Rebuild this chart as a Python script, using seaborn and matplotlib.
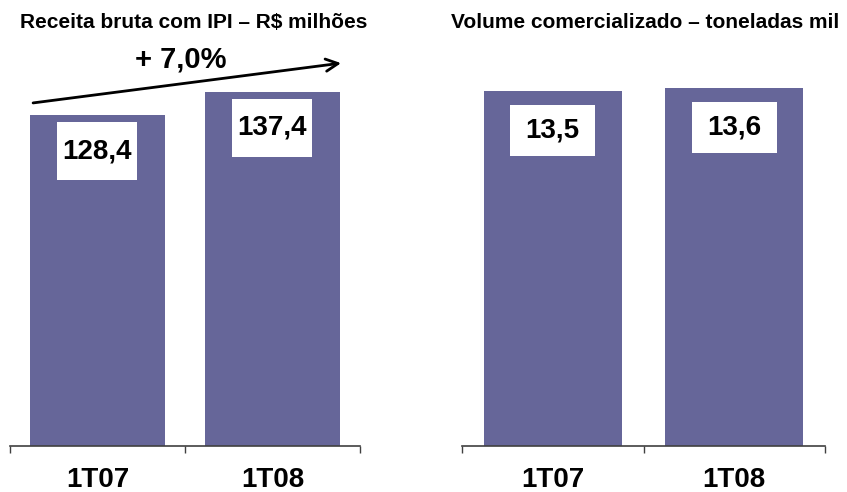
import matplotlib
matplotlib.use('Agg')
import matplotlib.pyplot as plt
import matplotlib.transforms as mtransforms
from matplotlib.patches import Rectangle
import seaborn as sns
import pandas as pd

# data
periods = ['1T07', '1T08']
receita = [128.4, 137.4]
volume = [13.5, 13.6]
receita_labels = ['128,4', '137,4']
volume_labels = ['13,5', '13,6']
growth_label = '+ 7,0%'
titles = ['Receita bruta com IPI \u2013 R$ milhões',
          'Volume comercializado \u2013 toneladas mil']

sns.set_style('white')
plt.rcParams['font.family'] = ['Liberation Sans', 'DejaVu Sans']
plt.rcParams['text.color'] = 'black'
plt.rcParams['xtick.color'] = 'black'

bar_color = '#666699'

fig = plt.figure(figsize=(8.47, 4.92), dpi=100)
ax1 = fig.add_axes([0.0118, 0.0935, 0.4132, 0.8252])
ax2 = fig.add_axes([0.5455, 0.0935, 0.4286, 0.8252])

panels = [
    (ax1, receita, receita_labels, titles[0], 157.5, 0.77, (0.80, 0.58), 0.36, 0.526),
    (ax2, volume, volume_labels, titles[1], 15.44, 0.76, (0.85, 0.51), 0.39, 0.504),
]

for ax, values, labels, title, ytop, width, box, drop, title_x in panels:
    df = pd.DataFrame({'periodo': periods, 'valor': values})
    sns.barplot(data=df, x='periodo', y='valor', color=bar_color,
                saturation=1, width=width, linewidth=0, ax=ax)
    ax.set_xlim(-0.5, 1.5)
    ax.set_ylim(0, ytop)
    ax.set_xlabel('')
    ax.set_ylabel('')
    ax.set_yticks([])
    for side in ['top', 'right', 'left']:
        ax.spines[side].set_visible(False)
    ax.spines['bottom'].set_color('#404040')
    ax.spines['bottom'].set_linewidth(1.2)

    # category labels between separator ticks
    ax.set_xticks([0, 1])
    ax.set_xticklabels(periods, fontsize=20, fontweight='bold', color='black')
    ax.set_xticks([-0.5, 0.5, 1.5], minor=True)
    ax.tick_params(axis='x', which='major', length=0, pad=15)
    ax.tick_params(axis='x', which='minor', length=5, width=1,
                   color='#404040', direction='out', bottom=True)

    # white value boxes inside bars
    for i, (v, lab) in enumerate(zip(values, labels)):
        trans = fig.dpi_scale_trans + mtransforms.ScaledTranslation(i, v, ax.transData)
        ax.add_patch(Rectangle((-box[0] / 2, -drop - box[1] / 2), box[0], box[1],
                               transform=trans, facecolor='white',
                               edgecolor='none', zorder=3, clip_on=False))
        ax.text(0, -drop, lab, transform=trans, ha='center', va='center',
                fontsize=20, fontweight='bold', color='black', zorder=4)

    ax.text(title_x, 1.042, title, transform=ax.transAxes, ha='center',
            va='center', fontsize=15, fontweight='bold', color='black')

# growth arrow on the revenue panel
ax1.annotate('', xy=(0.946, 0.943), xytext=(0.066, 0.845),
             xycoords='axes fraction', textcoords='axes fraction',
             arrowprops=dict(arrowstyle='->', lw=2, color='black',
                             mutation_scale=22, shrinkA=0, shrinkB=0))
ax1.text(0.489, 0.953, growth_label, transform=ax1.transAxes, ha='center',
         va='center', fontsize=21, fontweight='bold', color='black')

fig.savefig('out.png', dpi=100)
